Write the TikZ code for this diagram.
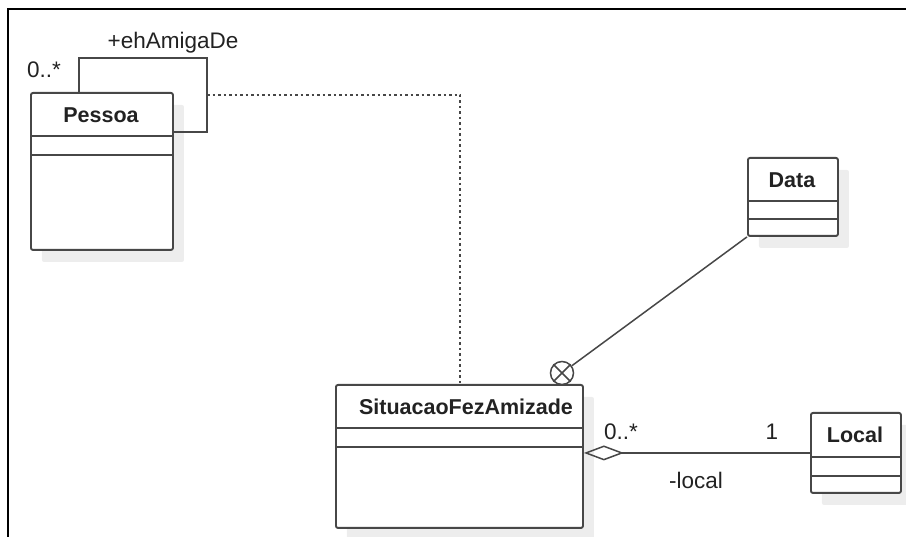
\documentclass[tikz,border=0pt]{standalone}
\usepackage{fontspec}
\setmainfont{Liberation Sans}
\usetikzlibrary{shadows,arrows.meta}
\definecolor{linec}{HTML}{474747}
\definecolor{textc}{HTML}{222222}
\definecolor{shadowc}{HTML}{EDEDED}
\tikzset{
  classbox/.style={draw=linec, line width=1.9pt, rounded corners=2pt, fill=white,
    inner sep=0pt, anchor=north west,
    drop shadow={shadow xshift=11pt, shadow yshift=-12pt, fill=shadowc, opacity=1}},
  sepline/.style={draw=linec, line width=1.7pt},
  classname/.style={font=\fontsize{21.5}{22}\selectfont\bfseries, text=textc, inner sep=0pt},
  rolelabel/.style={font=\fontsize{22.5}{23}\selectfont, text=textc, inner sep=0pt},
  assoc/.style={draw=linec, line width=1.5pt},
  assocclass/.style={draw=linec, line width=1.5pt, dash pattern=on 2.5pt off 3pt},
}
\begin{document}
\begin{tikzpicture}[x=1pt, y=-1pt]
\useasboundingbox (0,0) rectangle (906,537);
% outer frame
\draw[line width=2pt, black] (906,9) -- (8,9) -- (8,537);

% classes
\node[classbox, minimum width=142pt, minimum height=157pt] (pessoa) at (30,92) {};
\node[classbox, minimum width=90pt, minimum height=78pt] (data) at (747,157) {};
\node[classbox, minimum width=247pt, minimum height=143pt] (sit) at (335,384) {};
\node[classbox, minimum width=90pt, minimum height=80pt] (local) at (810,412) {};

% compartments
\draw[sepline] (pessoa.west |- 0,136) -- (pessoa.east |- 0,136)
               (pessoa.west |- 0,155) -- (pessoa.east |- 0,155);
\draw[sepline] (data.west |- 0,201) -- (data.east |- 0,201)
               (data.west |- 0,219) -- (data.east |- 0,219);
\draw[sepline] (sit.west |- 0,428) -- (sit.east |- 0,428)
               (sit.west |- 0,447) -- (sit.east |- 0,447);
\draw[sepline] (local.west |- 0,457) -- (local.east |- 0,457)
               (local.west |- 0,476) -- (local.east |- 0,476);

% class names
\node[classname] (pessoaT) at (101,115) {Pessoa};
\node[classname] (dataT) at (792,180) {Data};
\node[classname] (sitT) at (466,407) {SituacaoFezAmizade};
\node[classname] (localT) at (855,435) {Local};

% reflexive association on Pessoa
\coordinate (loopA) at (79,58);
\coordinate (loopB) at (207,132);
\draw[assoc] (loopA |- pessoa.north) -- (loopA) -| (loopB) -- (loopB -| pessoa.east);
\node[rolelabel] (roleAmiga) at (173,43) {+ehAmigaDe};
\node[rolelabel] (multPessoa) at (44,70) {0..*};

% association class link
\coordinate (assocMid) at (207,95);
\coordinate (sitTop) at (460,384);
\draw[assocclass] (assocMid) -| (sitTop);

% qualifier-style link to Data
\node[draw=linec, line width=1.5pt, circle, minimum size=23pt, inner sep=0pt, fill=white] (xo) at (562,373) {};
\draw[assoc] (xo.45) -- (xo.225) (xo.135) -- (xo.315);
\draw[assoc] (data.south west) -- (xo);

% aggregation to Local
\draw[assoc, {Diamond[open, length=40pt, width=15pt, line width=1.5pt]}-] (sit.east |- local.west) -- (local.west);
\node[rolelabel] (multSit) at (621,432) {0..*};
\node[rolelabel] (multLocal) at (772,432) {1};
\node[rolelabel] (roleLocal) at (696,480) {-local};
\end{tikzpicture}
\end{document}
